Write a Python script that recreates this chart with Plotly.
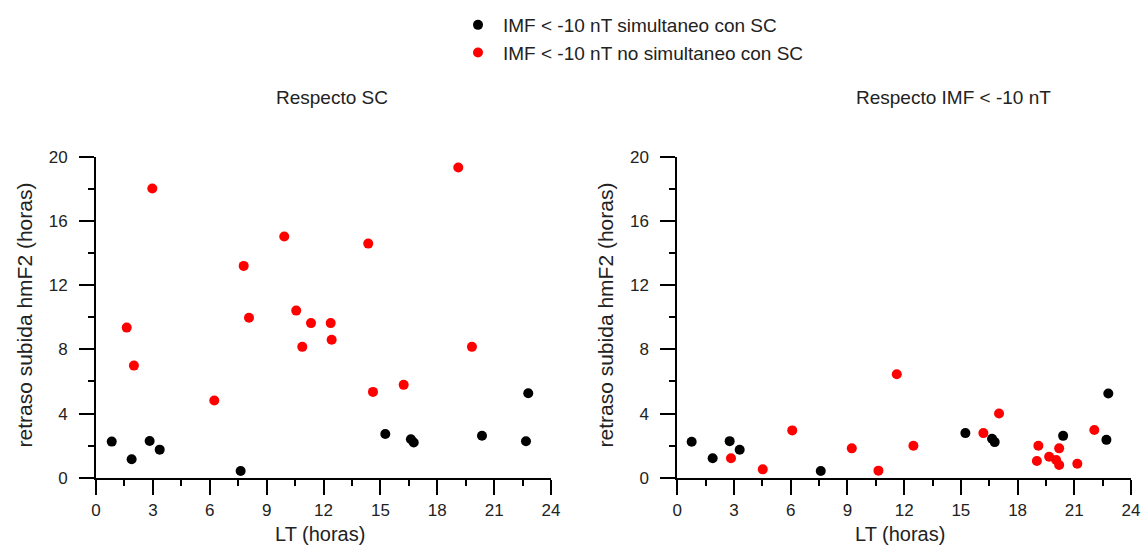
import plotly.graph_objects as go

# Left panel: delay relative to SC
sc_sim_lt = [0.83, 1.88, 2.83, 3.36, 7.63, 15.26, 16.61, 16.76, 20.36, 22.68, 22.80]
sc_sim_delay = [2.25, 1.15, 2.29, 1.75, 0.42, 2.73, 2.40, 2.19, 2.62, 2.27, 5.27]
sc_nosim_lt = [1.62, 2.00, 2.97, 6.24, 7.79, 8.07, 9.93, 10.56, 10.88, 11.34,
               12.38, 12.43, 14.36, 14.61, 16.23, 19.11, 19.83]
sc_nosim_delay = [9.36, 6.99, 18.04, 4.81, 13.21, 9.97, 15.04, 10.42, 8.16, 9.64,
                  9.64, 8.60, 14.60, 5.35, 5.79, 19.35, 8.16]

# Right panel: delay relative to IMF < -10 nT
imf_sim_lt = [0.76, 1.87, 2.77, 3.30, 7.59, 15.24, 16.65, 16.79, 20.41, 22.70, 22.80]
imf_sim_delay = [2.24, 1.21, 2.28, 1.74, 0.42, 2.78, 2.43, 2.22, 2.61, 2.36, 5.25]
imf_nosim_lt = [2.84, 4.52, 6.08, 9.23, 10.64, 11.61, 12.49, 16.19, 17.02, 19.10,
                19.02, 19.67, 20.04, 20.20, 20.20, 21.16, 22.06]
imf_nosim_delay = [1.21, 0.52, 2.95, 1.83, 0.44, 6.45, 1.99, 2.78, 4.00, 1.99,
                   1.04, 1.31, 1.10, 0.79, 1.83, 0.87, 2.97]

x_ticks = [0, 3, 6, 9, 12, 15, 18, 21, 24]
y_ticks = [0, 4, 8, 12, 16, 20]

label_sim = "IMF < -10 nT simultaneo con SC"
label_nosim = "IMF < -10 nT no simultaneo con SC"
panel_titles = ["Respecto SC", "Respecto IMF < -10 nT"]
x_title = "LT (horas)"
y_title = "retraso subida hmF2 (horas)"

W, H = 1143, 546
FONT = "Liberation Sans, Arial, sans-serif"
TEXT = "#222222"

fig = go.Figure()

def add_points(lt, delay, color, name, xa, ya, show):
    fig.add_trace(go.Scatter(
        x=lt, y=delay, mode="markers", name=name, legendgroup=name,
        showlegend=show, xaxis=xa, yaxis=ya,
        marker=dict(color=color, size=10, line=dict(width=0)),
    ))

add_points(sc_sim_lt, sc_sim_delay, "black", label_sim, "x", "y", True)
add_points(sc_nosim_lt, sc_nosim_delay, "#ff0000", label_nosim, "x", "y", True)
add_points(imf_sim_lt, imf_sim_delay, "black", label_sim, "x2", "y2", False)
add_points(imf_nosim_lt, imf_nosim_delay, "#ff0000", label_nosim, "x2", "y2", False)

# plot areas in pixels
left_px = (96, 551)
right_px = (677.3, 1131)
y_px = (477.7, 157)  # bottom, top

ydom = [1 - y_px[0] / H, 1 - y_px[1] / H]

xaxis_common = dict(
    range=[0, 24], tickvals=x_ticks, showgrid=False, zeroline=False,
    showline=True, linecolor="black", linewidth=2,
    ticks="outside", ticklen=15, tickwidth=2, tickcolor="black",
    minor=dict(dtick=1.5, ticks="outside", ticklen=6, tickwidth=2, tickcolor="black"),
    tickfont=dict(family=FONT, size=17, color=TEXT),
    ticklabelstandoff=1, automargin=False, fixedrange=True,
)
yaxis_common = dict(
    range=[0, 20], tickvals=y_ticks, showgrid=False, zeroline=False,
    showline=True, linecolor="black", linewidth=2,
    ticks="outside", ticklen=15, tickwidth=2, tickcolor="black",
    minor=dict(dtick=2, ticks="outside", ticklen=6, tickwidth=2, tickcolor="black"),
    tickfont=dict(family=FONT, size=17, color=TEXT),
    ticklabelstandoff=8, automargin=False, fixedrange=True,
)

fig.update_layout(
    width=W, height=H,
    margin=dict(l=0, r=0, t=0, b=0),
    paper_bgcolor="white", plot_bgcolor="white",
    xaxis=dict(domain=[left_px[0] / W, left_px[1] / W], anchor="y", **xaxis_common),
    yaxis=dict(domain=ydom, anchor="x", **yaxis_common),
    xaxis2=dict(domain=[right_px[0] / W, right_px[1] / W], anchor="y2", **xaxis_common),
    yaxis2=dict(domain=ydom, anchor="x2", **yaxis_common),
    legend=dict(
        x=453 / W, y=1 - 6 / H, xanchor="left", yanchor="top",
        bgcolor="rgba(0,0,0,0)", borderwidth=0,
        font=dict(family=FONT, size=19, color=TEXT),
        itemsizing="trace", tracegroupgap=0, itemwidth=40,
    ),
    showlegend=True,
)

def text_at(px, py, txt, size, angle=0):
    fig.add_annotation(
        x=px / W, y=1 - py / H, xref="paper", yref="paper",
        text=txt, showarrow=False, textangle=angle,
        xanchor="center", yanchor="middle",
        font=dict(family=FONT, size=size, color=TEXT),
    )

text_at(331.5, 97, panel_titles[0], 19)
text_at(953, 97, panel_titles[1], 19)
text_at(319.5, 534, x_title, 20)
text_at(900, 534, x_title, 20)
text_at(24, 315.5, y_title, 21, -90)
text_at(605, 315.5, y_title, 21, -90)

fig.write_html("out.html")
